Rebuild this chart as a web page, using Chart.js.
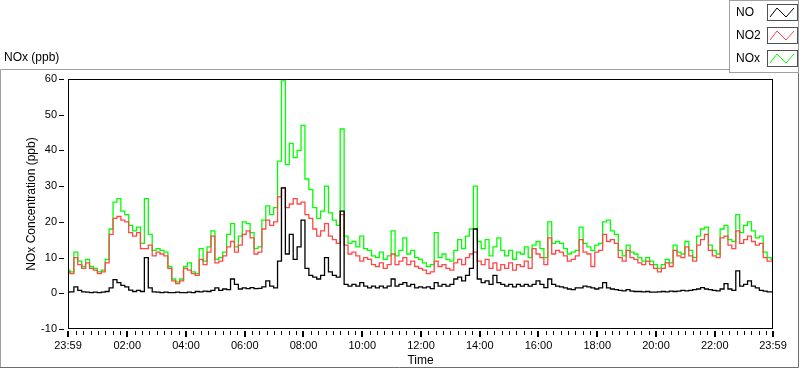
<!DOCTYPE html>
<html>
<head>
<meta charset="utf-8">
<script src="https://cdn.jsdelivr.net/npm/chart.js@4.4.1/dist/chart.umd.min.js"></script>
<style>
html,body{margin:0;padding:0;background:#fff;}
#wrap{width:800px;height:369px;position:relative;}
canvas{display:block;}
</style>
</head>
<body>
<div id="wrap"><canvas id="c" width="800" height="369"></canvas></div>
<script>
// ---- data (one sample every 8 minutes starting 23:59) ----
const STEP_MIN = 8;

const NO = [
0.3,0.4,1.8,0.8,0.4,0.3,0.2,0.3,0.2,0.3,0.5,1.5,3.8,3.0,2.2,
1.8,0.9,0.5,0.8,0.5,10.0,1.5,0.4,0.3,0.2,0.3,0.2,0.2,0.3,0.2,
0.2,0.3,0.2,0.5,0.4,0.6,0.5,0.8,1.5,0.8,1.2,1.0,4.0,2.5,1.2,
1.5,1.3,1.6,1.3,1.4,1.8,3.5,2.0,1.5,9.0,29.5,11.0,16.5,9.5,13.0,
20.5,7.0,5.0,4.5,4.0,5.0,10.0,6.0,5.0,4.5,23.0,2.5,2.0,2.5,2.0,
3.0,2.0,1.5,2.0,1.5,2.0,1.5,2.0,4.0,2.0,2.5,3.0,2.0,2.5,1.5,
1.8,1.5,1.8,1.3,3.0,2.0,2.5,2.0,2.5,4.0,4.5,3.5,5.0,7.0,18.0,
4.0,3.0,3.5,2.5,5.0,3.0,2.5,2.0,2.5,1.8,2.5,2.0,2.5,2.0,2.5,
3.5,2.5,1.6,4.0,2.5,2.0,1.8,1.5,1.2,1.0,1.5,1.5,2.0,1.8,1.5,
1.2,1.5,3.0,1.5,1.2,1.0,0.8,0.7,1.0,0.6,0.5,0.5,0.4,0.5,0.3,
0.3,0.4,0.5,0.4,0.6,0.5,0.6,0.8,0.7,0.8,1.0,1.2,1.6,1.2,1.0,
0.8,0.7,1.2,2.7,1.2,0.8,6.3,2.0,2.5,3.5,2.0,1.5,0.8,0.6,0.4,0.4
];

const NO2 = [
6.0,5.5,10.0,8.0,7.0,8.5,7.0,6.5,5.5,6.0,8.5,16.5,21.0,21.5,20.5,
20.0,17.0,16.0,17.0,12.5,12.5,13.5,10.5,11.5,11.0,10.5,7.0,3.5,2.7,3.5,
7.0,6.5,5.5,5.0,9.5,8.0,11.5,16.0,8.5,9.0,10.5,13.0,14.5,11.5,13.5,
16.5,17.5,15.5,11.0,11.5,18.0,20.5,19.0,20.0,27.0,29.5,24.0,25.0,26.5,25.0,
25.5,22.0,21.0,18.0,16.0,17.5,19.5,16.0,15.0,14.0,22.0,13.5,11.0,11.5,10.5,
9.0,10.0,9.5,8.0,7.5,8.5,7.0,8.0,11.0,8.0,9.0,10.0,8.0,9.0,7.5,
7.0,6.5,5.5,6.0,9.0,7.5,8.0,7.0,6.5,8.5,9.5,8.0,10.0,11.0,11.5,
9.0,8.0,9.5,7.0,8.5,6.5,8.0,7.0,8.5,6.5,8.0,7.5,9.0,7.0,12.5,
11.0,10.0,8.0,15.5,11.0,12.0,11.5,10.5,9.0,9.5,10.5,15.0,11.5,11.0,7.5,
11.5,12.0,16.5,14.5,15.0,14.0,10.0,9.0,12.0,10.0,9.5,8.5,8.0,9.0,8.0,
7.0,6.0,7.0,8.5,7.5,12.0,10.5,10.0,13.0,10.5,9.0,13.5,15.0,16.5,12.0,
10.5,10.0,15.5,16.0,13.5,12.5,17.5,14.0,15.0,16.0,14.5,13.5,14.0,10.0,9.0,9.0
];

const NOX = [
6.5,6.0,11.5,9.0,7.5,9.5,7.5,7.0,6.0,6.5,9.5,18.0,25.5,26.5,23.0,
22.0,19.0,17.5,18.5,14.0,26.5,16.5,12.0,12.5,12.0,11.5,7.5,4.0,3.2,4.0,
7.5,8.5,6.0,5.5,12.5,9.0,13.0,17.5,9.5,10.0,11.5,16.5,19.5,13.0,16.0,
20.0,19.5,17.0,12.5,13.0,20.5,24.5,22.0,24.0,37.0,59.5,36.0,42.0,38.0,40.0,
47.0,32.0,29.0,24.0,21.0,23.0,30.0,22.5,20.5,19.0,46.0,16.0,14.0,14.5,13.0,
16.0,12.5,12.0,10.5,10.0,11.5,9.5,10.5,17.5,10.5,12.0,15.5,11.0,12.0,10.0,
9.5,8.5,7.5,8.0,17.0,10.0,11.0,9.5,9.0,12.0,15.0,12.5,16.0,18.0,30.0,
14.5,12.5,15.0,10.5,13.0,15.5,12.0,10.5,12.0,9.5,11.5,11.0,13.0,10.0,13.5,
14.5,12.5,10.0,20.0,14.0,14.5,14.0,12.5,11.0,11.5,12.0,18.5,14.0,13.0,12.0,
13.5,14.0,20.0,20.5,17.5,16.5,12.0,10.5,13.5,11.5,11.0,10.0,9.0,10.0,9.0,
8.0,7.0,8.0,9.5,8.5,13.5,11.5,11.0,14.5,12.0,10.0,16.0,18.0,18.5,13.5,
12.0,11.0,18.0,19.0,15.0,14.5,22.0,17.0,19.0,20.0,17.5,15.5,16.0,11.5,10.0,9.5
];

// ---- axis ticks ----
const xTickMinutes = [0,121,241,361,481,601,721,841,961,1081,1201,1321,1440];
const xTickLabels  = ["23:59","02:00","04:00","06:00","08:00","10:00","12:00","14:00","16:00","18:00","20:00","22:00","23:59"];
const xMinorStepMin = 15;
const yTicks = [-10,0,10,20,30,40,50,60];

const seriesNames  = ["NO","NO2","NOx"];
const seriesColors = ["#000000","#ff4747","#00ff00"];

const FONT = "'Liberation Sans', Arial, sans-serif";

function toPoints(arr){ return arr.map((v,i)=>({x:i*STEP_MIN, y:v})); }

const decor = {
  id:'decor',
  beforeDraw(chart){
    const ctx = chart.ctx;
    ctx.save();
    ctx.fillStyle = '#fff';
    ctx.fillRect(0,0,chart.width,chart.height);
    ctx.lineWidth = 1;
    ctx.strokeStyle = '#a0a0a0';
    ctx.beginPath();
    ctx.moveTo(0.5,368); ctx.lineTo(0.5,69.5); ctx.lineTo(730,69.5);
    ctx.stroke();
    ctx.strokeStyle = '#6e6e6e';
    ctx.beginPath();
    ctx.moveTo(0,367.5); ctx.lineTo(798.5,367.5); ctx.lineTo(798.5,72);
    ctx.stroke();
    ctx.restore();
  },
  afterDraw(chart){
    const ctx = chart.ctx;
    const a = chart.chartArea;
    const xs = chart.scales.x, ys = chart.scales.y;
    ctx.save();
    ctx.strokeStyle = '#000';
    ctx.lineWidth = 1;
    ctx.strokeRect(a.left+0.5, a.top+0.5, a.right-a.left-1, a.bottom-a.top-1);
    ctx.beginPath();
    yTicks.forEach(v=>{
      const y = Math.round(ys.getPixelForValue(v))+0.5;
      ctx.moveTo(59,y); ctx.lineTo(64,y);
    });
    ctx.stroke();
    ctx.lineWidth = 2;
    ctx.beginPath();
    xTickMinutes.forEach(v=>{
      const x = Math.round(xs.getPixelForValue(v));
      ctx.moveTo(x,a.bottom+2); ctx.lineTo(x,a.bottom+8);
    });
    ctx.stroke();
    ctx.lineWidth = 1;
    ctx.beginPath();
    for(let m=1; m<1440; m+=xMinorStepMin){
      if(xTickMinutes.some(t=>Math.abs(t-m)<2)) continue;
      const x = Math.round(xs.getPixelForValue(m))+0.5;
      ctx.moveTo(x,a.bottom+2); ctx.lineTo(x,a.bottom+6);
    }
    ctx.stroke();
    ctx.fillStyle = '#000';
    ctx.font = '12px ' + FONT;
    ctx.textBaseline = 'middle';
    ctx.textAlign = 'left';
    ctx.fillText('NOx (ppb)', 4, 58);
    ctx.textAlign = 'center';
    ctx.fillText('Time', (a.left+a.right)/2, 361);
    ctx.save();
    ctx.translate(32,(a.top+a.bottom)/2);
    ctx.rotate(-Math.PI/2);
    ctx.fillText('NOx Concentration (ppb)',0,0);
    ctx.restore();
    ctx.fillStyle = '#fff';
    ctx.fillRect(730,0,69,72);
    ctx.strokeStyle = '#a0a0a0';
    ctx.strokeRect(729.5,0.5,69,72);
    seriesNames.forEach((n,i)=>{
      const top = 4 + i*23;
      ctx.fillStyle = '#000';
      ctx.textAlign = 'left';
      ctx.font = '12px ' + FONT;
      ctx.fillText(n, 736, top+8.5);
      ctx.strokeStyle = '#505050';
      ctx.lineWidth = 1;
      ctx.strokeRect(767.5, top+0.5, 30, 16);
      ctx.strokeStyle = seriesColors[i];
      ctx.beginPath();
      ctx.moveTo(770, top+13); ctx.lineTo(777, top+4); ctx.lineTo(786, top+13); ctx.lineTo(794, top+4);
      ctx.stroke();
    });
    ctx.restore();
  }
};

new Chart(document.getElementById('c'), {
  type:'line',
  data:{
    datasets:[
      {label:seriesNames[0], data:toPoints(NO),  borderColor:seriesColors[0], borderWidth:1.3, pointRadius:0, stepped:'middle', order:0},
      {label:seriesNames[1], data:toPoints(NO2), borderColor:seriesColors[1], borderWidth:1.3, pointRadius:0, stepped:'middle', order:1},
      {label:seriesNames[2], data:toPoints(NOX), borderColor:seriesColors[2], borderWidth:1.3, pointRadius:0, stepped:'middle', order:2}
    ]
  },
  options:{
    responsive:false,
    animation:false,
    devicePixelRatio:1,
    layout:{padding:{left:0, top:79, right:27, bottom:0}},
    plugins:{legend:{display:false}, title:{display:false}, tooltip:{enabled:false}},
    scales:{
      x:{
        type:'linear', min:0, max:1440,
        afterBuildTicks:(s)=>{ s.ticks = xTickMinutes.map(v=>({value:v})); },
        afterFit:(s)=>{ s.height = 40; },
        grid:{display:false, drawTicks:false},
        border:{display:false},
        ticks:{
          autoSkip:false, maxRotation:0, minRotation:0, padding:10,
          color:'#000', font:{family:FONT, size:11},
          callback:(v)=>{ const k = xTickMinutes.indexOf(v); return k>=0 ? xTickLabels[k] : ''; }
        }
      },
      y:{
        min:-10, max:60,
        afterBuildTicks:(s)=>{ s.ticks = yTicks.map(v=>({value:v})); },
        afterFit:(s)=>{ s.width = 68; },
        grid:{display:false, drawTicks:false},
        border:{display:false},
        ticks:{padding:11, color:'#000', font:{family:FONT, size:11}}
      }
    }
  },
  plugins:[decor]
});
</script>
</body>
</html>
